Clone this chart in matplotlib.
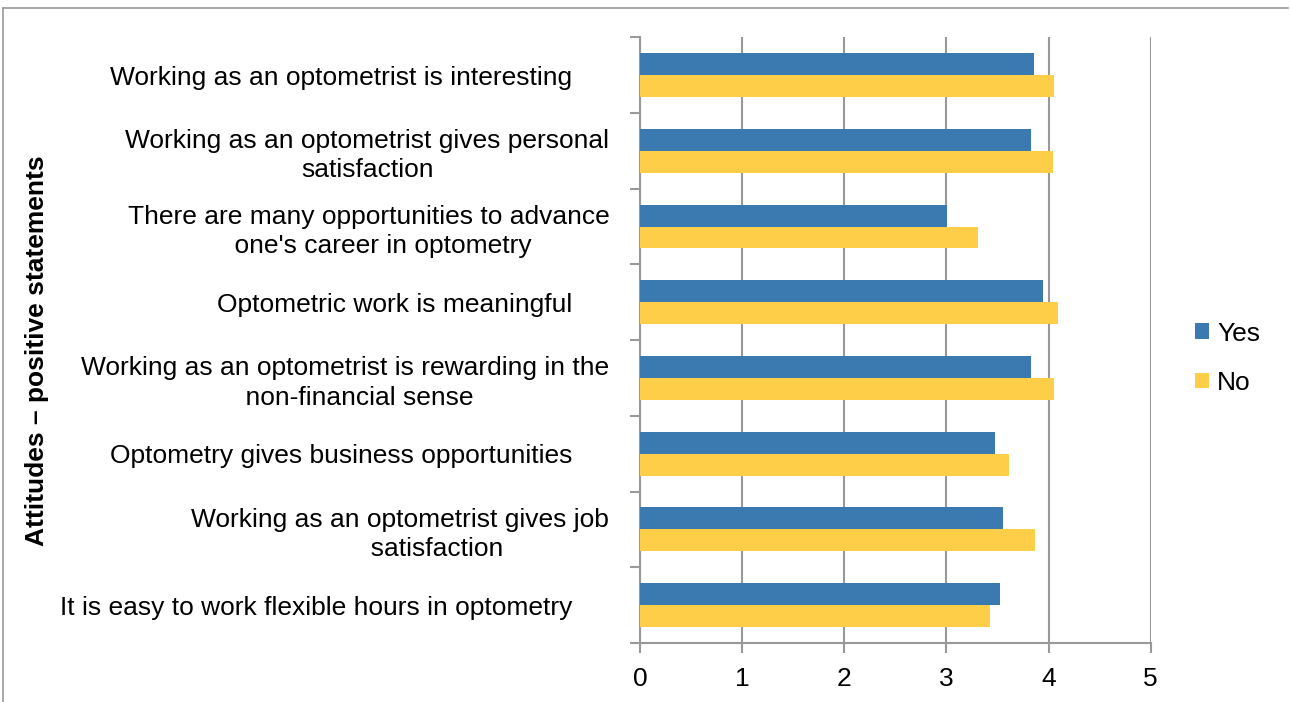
import numpy as np
import matplotlib.pyplot as plt
from matplotlib.lines import Line2D

plt.rcParams['font.family'] = ['Liberation Sans', 'DejaVu Sans']

statements = [
    "Working as an optometrist is interesting     ",
    "Working as an optometrist gives personal\nsatisfaction",
    "There are many opportunities to advance\n    one's career in optometry",
    "Optometric work is meaningful     ",
    "Working as an optometrist is rewarding in the\n    non-financial sense",
    "Optometry gives business opportunities     ",
    "Working as an optometrist gives job\n          satisfaction",
    "It is easy to work flexible hours in optometry     ",
]
yes_vals = [3.86, 3.83, 3.01, 3.95, 3.83, 3.48, 3.55, 3.53]
no_vals = [4.05, 4.04, 3.31, 4.09, 4.05, 3.61, 3.87, 3.43]

blue = '#3B7AB0'
yellow = '#FFCE48'
grey = '#999999'
fs = 19

fig = plt.figure(figsize=(12.9, 7.02), dpi=100)
ax = fig.add_axes([0.496, 0.084, 0.396, 0.863])

y = np.arange(len(statements))
h = 0.29
ax.barh(y - h / 2, yes_vals, height=h, color=blue, label='Yes', zorder=3)
ax.barh(y + h / 2, no_vals, height=h, color=yellow, label='No', zorder=3)

ax.set_xlim(0, 5)
ax.set_ylim(len(statements) - 0.5, -0.5)
ax.set_xticks(range(6))
ax.tick_params(axis='x', labelsize=fs, length=7, width=1.5, color=grey, pad=10)
ax.xaxis.grid(True, color=grey, linewidth=1.5, zorder=0)

# category labels sit between boundary ticks
ax.set_yticks(np.arange(-0.5, len(statements), 1.0))
ax.set_yticklabels([])
ax.set_yticks(y, minor=True)
ax.set_yticklabels(statements, minor=True, fontsize=fs, multialignment='center',
                   linespacing=1.27)
ax.tick_params(axis='y', which='major', length=7, width=1.5, color=grey)
ax.tick_params(axis='y', which='minor', length=0, pad=22)

for side in ['top', 'right']:
    ax.spines[side].set_visible(False)
for side in ['left', 'bottom']:
    ax.spines[side].set_color(grey)
    ax.spines[side].set_linewidth(1.5)

fig.text(0.029, 0.50, 'Attitudes \u2013 positive statements', rotation=90,
         ha='center', va='center', fontsize=fs, fontweight='bold')

ax.legend(loc='center left', bbox_to_anchor=(1.04, 0.47), frameon=False,
          fontsize=fs, handlelength=0.55, handleheight=0.55, handletextpad=0.3,
          labelspacing=0.95)

# outer chart border
fig.add_artist(Line2D([0.0023, 0.9985], [0.989, 0.989], color=grey, lw=1.2))
fig.add_artist(Line2D([0.0023, 0.0023], [0.989, 0.0], color=grey, lw=1.2))

fig.savefig('out.png', dpi=100)
